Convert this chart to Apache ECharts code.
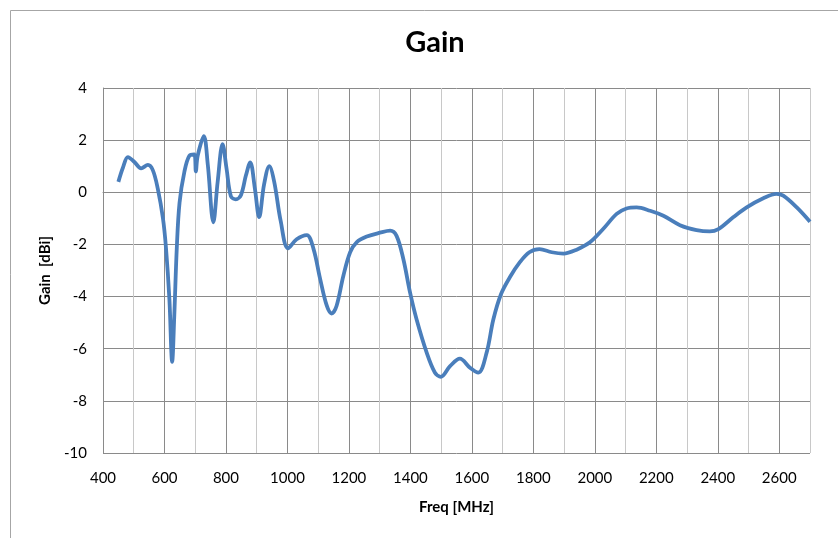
<!DOCTYPE html>
<html>
<head>
<meta charset="utf-8">
<script src="https://cdn.jsdelivr.net/npm/echarts@6/dist/echarts.min.js"></script>
<style>
html,body{margin:0;padding:0;background:#fff;}
#c{width:838px;height:538px;}
</style>
</head>
<body>
<div id="c"></div>
<script>
const freq = [450,465,481,503,524,546,562,578,595,605,616,625,632,640,649,665,681,697,702,708,728,741,759,773,789,802,816,832,849,865,879,894,908,924,941,957,978,1002,1030,1063,1085,1106,1128,1144,1160,1182,1204,1225,1258,1301,1334,1355,1377,1399,1420,1453,1480,1499,1529,1561,1594,1621,1648,1670,1695,1724,1755,1787,1820,1860,1898,1941,1984,2027,2071,2103,2136,2180,2223,2277,2331,2374,2402,2450,2494,2548,2591,2613,2657,2700];
const gain = [0.40,0.95,1.35,1.15,0.92,1.05,0.85,0.15,-1.0,-2.15,-4.1,-6.5,-4.7,-2.15,-0.4,0.8,1.4,1.45,0.8,1.4,2.15,1.05,-1.15,0.4,1.85,0.9,-0.15,-0.27,-0.1,0.65,1.15,0.15,-0.95,0.3,1.0,0.4,-1.1,-2.15,-1.8,-1.64,-2.18,-3.3,-4.35,-4.65,-4.35,-3.2,-2.3,-1.92,-1.7,-1.55,-1.47,-1.67,-2.56,-3.85,-4.87,-6.15,-6.92,-7.08,-6.67,-6.38,-6.73,-6.92,-6.15,-4.87,-3.9,-3.25,-2.7,-2.3,-2.18,-2.3,-2.35,-2.2,-1.92,-1.41,-0.83,-0.62,-0.58,-0.71,-0.9,-1.26,-1.45,-1.5,-1.41,-0.96,-0.58,-0.23,-0.06,-0.13,-0.58,-1.13];
const titleText = 'Gain';
const xName = 'Freq [MHz]';
const yName = 'Gain  [dBi]';

const chart = echarts.init(document.getElementById('c'), null, {renderer: 'canvas'});
const FONT = 'Lato, "Liberation Sans", sans-serif';
chart.setOption({
  animation: false,
  backgroundColor: '#ffffff',
  graphic: [{
    type: 'rect', left: 8, top: 8, silent: true, z: -1,
    shape: {x: 0, y: 0, width: 840, height: 540},
    style: {fill: 'none', stroke: '#a6a6a6', lineWidth: 1}
  }],
  title: {
    text: titleText, left: 430, textAlign: 'center', top: 23,
    textStyle: {fontFamily: FONT, fontSize: 29, fontWeight: 'bold', color: '#000'}
  },
  grid: {left: 103, right: 28, top: 88, bottom: 85, containLabel: false},
  xAxis: {
    type: 'value', min: 400, max: 2700, interval: 100,
    name: xName, nameLocation: 'middle', nameGap: 47,
    nameTextStyle: {fontFamily: FONT, fontSize: 15, fontWeight: 'bold', color: '#000'},
    axisLine: {show: true, lineStyle: {color: '#8a8a8a', width: 1}},
    axisTick: {show: false},
    axisLabel: {
      fontFamily: FONT, fontSize: 15, color: '#000', margin: 18,
      formatter: v => (v % 200 === 0 && v < 2700) ? String(v) : ''
    },
    splitLine: {show: true, lineStyle: {color: ['#8a8a8a', '#c8c8c8'], width: 1}}
  },
  yAxis: {
    type: 'value', min: -10, max: 4, interval: 2,
    name: yName, nameLocation: 'middle', nameGap: 50, nameRotate: 90,
    nameTextStyle: {fontFamily: FONT, fontSize: 15, fontWeight: 'bold', color: '#000'},
    axisLine: {show: true, lineStyle: {color: '#8a8a8a', width: 1}},
    axisTick: {show: false},
    axisLabel: {fontFamily: FONT, fontSize: 15, color: '#000', margin: 16},
    splitLine: {show: true, lineStyle: {color: '#8a8a8a', width: 1}}
  },
  series: [{
    type: 'line',
    data: freq.map((f, i) => [f, gain[i]]),
    smooth: 0.35,
    showSymbol: false,
    lineStyle: {color: '#4a7ebb', width: 3.8},
    itemStyle: {color: '#4a7ebb'}
  }]
});
</script>
</body>
</html>
